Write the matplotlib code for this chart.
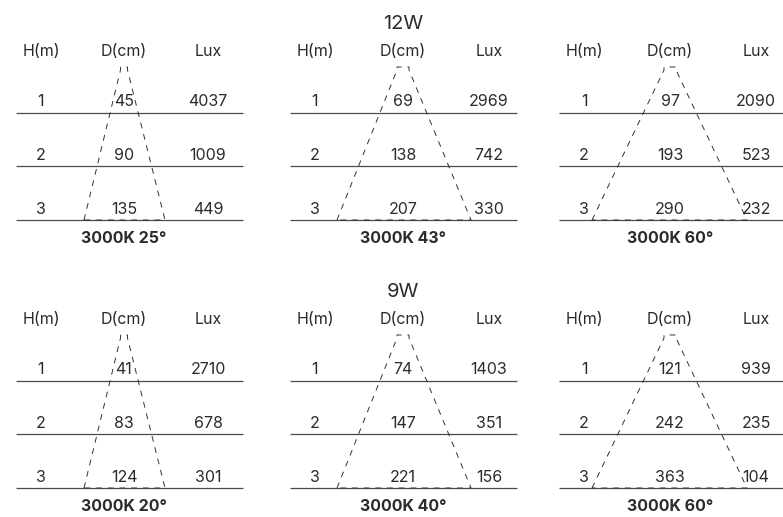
import matplotlib.pyplot as plt

plt.rcParams['font.family'] = ['Inter', 'DejaVu Sans']

# data
heights = ['1', '2', '3']
headers = ['H(m)', 'D(cm)', 'Lux']
group_titles = ['12W', '9W']
beam_labels = [['3000K 25°', '3000K 43°', '3000K 60°'],
               ['3000K 20°', '3000K 40°', '3000K 60°']]
diam_12w = [[45, 90, 135], [69, 138, 207], [97, 193, 290]]
lux_12w = [[4037, 1009, 449], [2969, 742, 330], [2090, 523, 232]]
diam_9w = [[41, 83, 124], [74, 147, 221], [121, 242, 363]]
lux_9w = [[2710, 678, 301], [1403, 351, 156], [939, 235, 104]]

# layout (pixels)
W, H = 783, 517
panel_x = [  # line start, line end, H col, D col, Lux col, cone base left, cone base right
    (16, 243, 41, 124, 208, 84, 165),
    (290, 517, 315, 403, 489, 337, 471),
    (559, 783, 584, 670, 756, 592, 747),
]
row_base = [106, 160, 214]
row_line = [113, 166, 220]
header_base = 56
title_base = 29
label_base = 243
cone_top = 67
y_shift = 268

txt = '#2b2b2b'
line_c = '#4a4a4a'
fs = 11.5

fig = plt.figure(figsize=(W / 100, H / 100), dpi=100)
ax = fig.add_axes([0, 0, 1, 1])
ax.set_xlim(0, W)
ax.set_ylim(H, 0)
ax.axis('off')

groups = [(diam_12w, lux_12w), (diam_9w, lux_9w)]
for g, (diams, luxes) in enumerate(groups):
    dy = g * y_shift
    ax.text(panel_x[1][3], title_base + dy, group_titles[g], ha='center', va='baseline',
            fontsize=14.5, color=txt)
    for p, (x0, x1, xh, xd, xl, bl, br) in enumerate(panel_x):
        for col, x in zip(headers, (xh, xd, xl)):
            ax.text(x, header_base + dy, col, ha='center', va='baseline', fontsize=fs, color=txt)
        for r in range(3):
            ax.plot([x0, x1], [row_line[r] + dy] * 2, color=line_c, lw=0.9, solid_capstyle='butt')
            ax.text(xh, row_base[r] + dy, heights[r], ha='center', va='baseline', fontsize=fs, color=txt)
            ax.text(xd, row_base[r] + dy, str(diams[p][r]), ha='center', va='baseline', fontsize=fs, color=txt)
            ax.text(xl, row_base[r] + dy, str(luxes[p][r]), ha='center', va='baseline', fontsize=fs, color=txt)
        # beam cone
        half = 6 if p else 3.5
        ax.plot([bl, xd - half, xd - half, xd + half, xd + half, br, bl],
                [row_line[2] + dy, cone_top + 3 + dy, cone_top + dy, cone_top + dy,
                 cone_top + 3 + dy, row_line[2] + dy, row_line[2] + dy],
                color='#333333', lw=0.7, ls=(0, (6, 6)))
        ax.text(xd, label_base + dy, beam_labels[g][p], ha='center', va='baseline',
                fontsize=fs, fontweight='bold', color=txt)

fig.savefig('out.png', dpi=100, facecolor='white')
